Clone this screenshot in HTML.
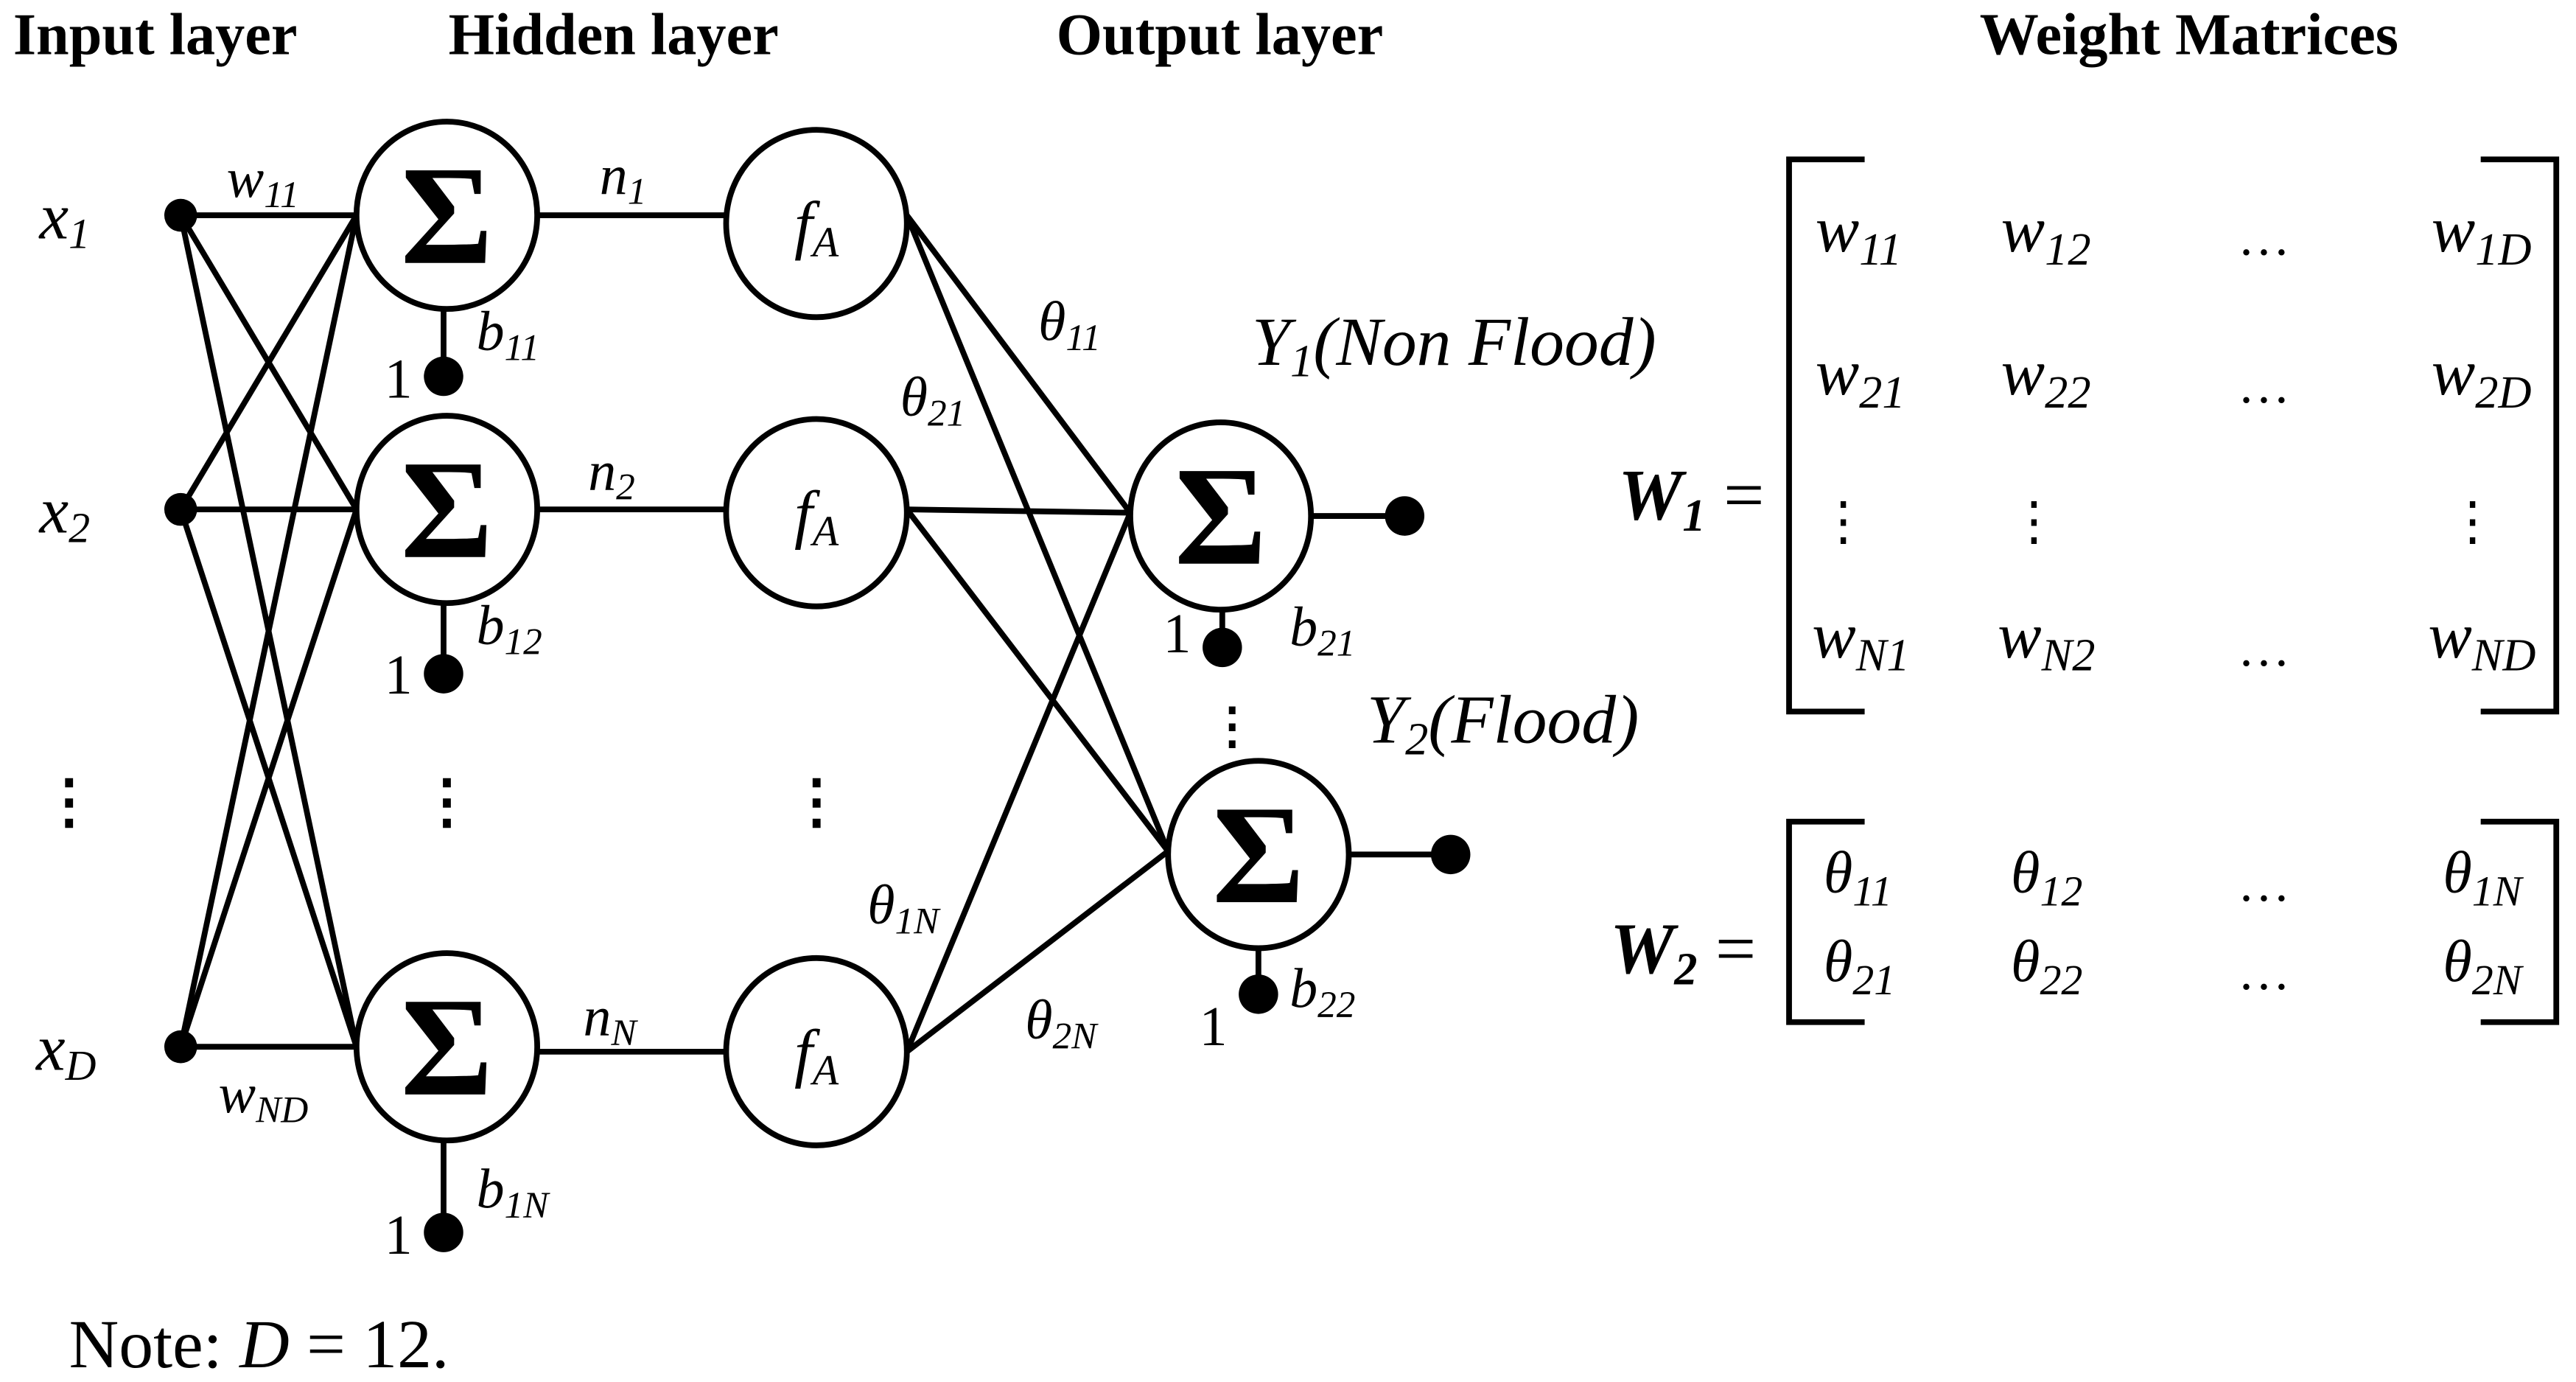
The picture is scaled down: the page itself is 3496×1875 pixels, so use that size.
<!DOCTYPE html>
<html><head><meta charset="utf-8"><style>
html,body{margin:0;padding:0;background:#fff;}
svg{display:block;}
text{font-family:"Liberation Serif",serif;fill:#000;}
.i{font-style:italic;}
.h{font-weight:bold;font-size:36px;}
</style></head><body>
<svg width="3496" height="1875" viewBox="0 0 1568 841" preserveAspectRatio="none" xmlns="http://www.w3.org/2000/svg">
<g stroke="#000" stroke-width="3.5" fill="none">
<line x1="110" y1="131" x2="217" y2="131"/><line x1="110" y1="131" x2="217" y2="310"/><line x1="110" y1="131" x2="217" y2="637"/>
<line x1="110" y1="310" x2="217" y2="131"/><line x1="110" y1="310" x2="217" y2="310"/><line x1="110" y1="310" x2="217" y2="637"/>
<line x1="110" y1="637" x2="217" y2="131"/><line x1="110" y1="637" x2="217" y2="310"/><line x1="110" y1="637" x2="217" y2="637"/>
<line x1="327" y1="131" x2="442" y2="131"/><line x1="327" y1="310" x2="442" y2="310"/><line x1="327" y1="640" x2="442" y2="640"/>
<line x1="552" y1="131" x2="688" y2="312"/><line x1="552" y1="131" x2="711" y2="518"/>
<line x1="552" y1="310" x2="688" y2="312"/><line x1="552" y1="310" x2="711" y2="518"/>
<line x1="552" y1="640" x2="688" y2="312"/><line x1="552" y1="640" x2="711" y2="518"/>
<line x1="798" y1="314" x2="855" y2="314"/><line x1="821" y1="520" x2="883" y2="520"/>
<line x1="270" y1="186" x2="270" y2="229"/><line x1="270" y1="365" x2="270" y2="410"/><line x1="270" y1="692" x2="270" y2="750"/>
<line x1="744" y1="370" x2="744" y2="394"/><line x1="766" y1="575" x2="766" y2="605"/>
<g fill="#fff">
<ellipse cx="272" cy="131" rx="55" ry="57"/><ellipse cx="272" cy="310" rx="55" ry="57"/><ellipse cx="272" cy="637" rx="55" ry="57"/>
<ellipse cx="497" cy="136" rx="55" ry="57"/><ellipse cx="497" cy="312" rx="55" ry="57"/><ellipse cx="497" cy="640" rx="55" ry="57"/>
<ellipse cx="743" cy="314" rx="55" ry="57"/><ellipse cx="766" cy="520" rx="55" ry="57"/>
</g>
<polyline points="1135,97 1089,97 1089,433 1135,433"/>
<polyline points="1510,97 1556,97 1556,433 1510,433"/>
<polyline points="1135,500 1089,500 1089,622 1135,622"/>
<polyline points="1510,500 1556,500 1556,622 1510,622"/>
</g>
<g fill="#000">
<circle cx="110" cy="131" r="10"/><circle cx="110" cy="310" r="10"/><circle cx="110" cy="637" r="10"/>
<circle cx="270" cy="229" r="12"/><circle cx="270" cy="410" r="12"/><circle cx="270" cy="750" r="12"/>
<circle cx="744" cy="394" r="12"/><circle cx="766" cy="605" r="12"/>
<circle cx="855" cy="314" r="12"/><circle cx="883" cy="520" r="12"/>
</g>
<text class="h" x="8" y="33">Input layer</text>
<text class="h" x="273" y="33">Hidden layer</text>
<text class="h" x="643" y="33">Output layer</text>
<text class="h" x="1205" y="33">Weight Matrices</text>
<g font-size="86" text-anchor="middle" font-weight="bold">
<text x="272" y="160">Σ</text><text x="272" y="339">Σ</text><text x="272" y="666">Σ</text>
<text x="743" y="343">Σ</text><text x="766" y="549">Σ</text>
</g>
<g font-size="40" class="i" text-anchor="middle">
<text x="497" y="150">f<tspan font-size="26" dy="6">A</tspan></text>
<text x="497" y="326">f<tspan font-size="26" dy="6">A</tspan></text>
<text x="497" y="654">f<tspan font-size="26" dy="6">A</tspan></text>
</g>
<g font-size="40" class="i">
<text x="24" y="145">x<tspan font-size="26" dy="6">1</tspan></text>
<text x="24" y="324">x<tspan font-size="26" dy="6">2</tspan></text>
<text x="22" y="651">x<tspan font-size="26" dy="6">D</tspan></text>
<text x="138" y="120" font-size="34">w<tspan font-size="23" dy="6">11</tspan></text>
<text x="133" y="677" font-size="34">w<tspan font-size="23" dy="6">ND</tspan></text>
<text x="365" y="118" font-size="34">n<tspan font-size="23" dy="6">1</tspan></text>
<text x="358" y="298" font-size="34">n<tspan font-size="23" dy="6">2</tspan></text>
<text x="355" y="630" font-size="34">n<tspan font-size="23" dy="6">N</tspan></text>
<text x="290" y="213" font-size="34">b<tspan font-size="23" dy="6">11</tspan></text>
<text x="290" y="392" font-size="34">b<tspan font-size="23" dy="6">12</tspan></text>
<text x="290" y="735" font-size="34">b<tspan font-size="23" dy="6">1N</tspan></text>
<text x="785" y="393" font-size="34">b<tspan font-size="23" dy="6">21</tspan></text>
<text x="785" y="613" font-size="34">b<tspan font-size="23" dy="6">22</tspan></text>
<text x="632" y="207" font-size="34">θ<tspan font-size="23" dy="6">11</tspan></text>
<text x="548" y="253" font-size="34">θ<tspan font-size="23" dy="6">21</tspan></text>
<text x="528" y="562" font-size="34">θ<tspan font-size="23" dy="6">1N</tspan></text>
<text x="624" y="632" font-size="34">θ<tspan font-size="23" dy="6">2N</tspan></text>
<text x="762" y="222" font-size="42">Y<tspan font-size="28" dy="7">1</tspan><tspan dy="-7">(Non Flood)</tspan></text>
<text x="832" y="452" font-size="42">Y<tspan font-size="28" dy="7">2</tspan><tspan dy="-7">(Flood)</tspan></text>
</g>
<g font-size="34">
<text x="234" y="242">1</text><text x="234" y="422">1</text><text x="234" y="763">1</text>
<text x="708" y="397">1</text><text x="730" y="636">1</text>
</g>
<g font-size="36" font-weight="bold" text-anchor="middle">
<text x="42" y="500">⋮</text><text x="272" y="500">⋮</text><text x="497" y="500">⋮</text><text x="750" y="452" font-size="30">⋮</text>
</g>
<text x="42" y="832" font-size="42">Note: <tspan class="i">D</tspan> = 12.</text>
<text x="985" y="316" font-size="44" font-weight="bold" class="i">W<tspan font-size="28" dy="7">1</tspan><tspan dy="-7" font-weight="normal" font-style="normal"> =</tspan></text>
<text x="980" y="592" font-size="44" font-weight="bold" class="i">W<tspan font-size="28" dy="7">2</tspan><tspan dy="-7" font-weight="normal" font-style="normal"> =</tspan></text>
<g font-size="40" class="i">
<text x="1105" y="153">w<tspan font-size="28" dy="8">11</tspan></text>
<text x="1218" y="153">w<tspan font-size="28" dy="8">12</tspan></text>
<text x="1480" y="153">w<tspan font-size="28" dy="8">1D</tspan></text>
<text x="1105" y="240">w<tspan font-size="28" dy="8">21</tspan></text>
<text x="1218" y="240">w<tspan font-size="28" dy="8">22</tspan></text>
<text x="1480" y="240">w<tspan font-size="28" dy="8">2D</tspan></text>
<text x="1103" y="400">w<tspan font-size="28" dy="8">N1</tspan></text>
<text x="1216" y="400">w<tspan font-size="28" dy="8">N2</tspan></text>
<text x="1478" y="400">w<tspan font-size="28" dy="8">ND</tspan></text>
<text x="1110" y="543" font-size="36">θ<tspan font-size="26" dy="8">11</tspan></text>
<text x="1224" y="543" font-size="36">θ<tspan font-size="26" dy="8">12</tspan></text>
<text x="1487" y="543" font-size="36">θ<tspan font-size="26" dy="8">1N</tspan></text>
<text x="1110" y="597" font-size="36">θ<tspan font-size="26" dy="8">21</tspan></text>
<text x="1224" y="597" font-size="36">θ<tspan font-size="26" dy="8">22</tspan></text>
<text x="1487" y="597" font-size="36">θ<tspan font-size="26" dy="8">2N</tspan></text>
</g>
<g font-size="32" text-anchor="middle">
<text x="1378" y="155">…</text><text x="1378" y="245">…</text><text x="1378" y="405">…</text>
<text x="1378" y="548">…</text><text x="1378" y="602">…</text>
<text x="1122" y="328">⋮</text><text x="1238" y="328">⋮</text><text x="1505" y="328">⋮</text>
</g>
</svg>
</body></html>
